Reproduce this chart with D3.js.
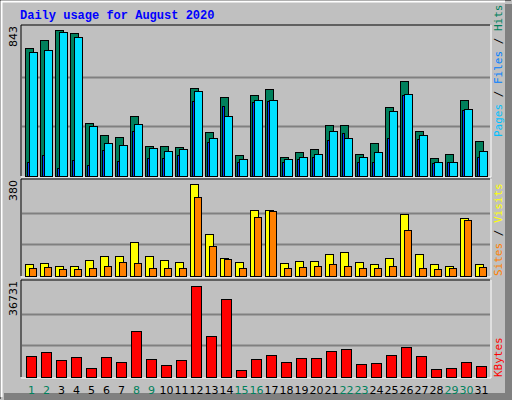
<!DOCTYPE html>
<html><head><meta charset="utf-8">
<script src="https://cdn.jsdelivr.net/npm/d3@7"></script>
<style>body{margin:0;background:#fff}</style>
</head><body><div id="chart"></div>
<script>
var days = d3.range(1, 32);
var weekend = [1, 2, 8, 9, 15, 16, 22, 23, 29, 30];
var hits = [725,768,824,810,301,234,219,341,172,172,166,497,251,447,116,459,492,110,133,150,289,289,122,184,391,537,256,104,122,430,200];
var files = [702,713,814,785,285,184,178,296,161,139,155,481,217,341,94,430,430,94,110,122,256,217,110,133,367,463,234,82,82,378,139];
var pages = [79,118,45,90,62,146,84,253,101,101,118,427,195,396,79,419,427,79,99,110,206,245,82,82,217,459,211,71,77,373,110];
var sites = [49,53,41,41,65,81,81,137,81,65,57,367,168,73,57,264,264,53,61,61,89,97,57,49,73,248,89,49,41,232,49];
var visits = [33,37,29,29,33,41,57,53,33,33,33,316,121,69,33,236,260,33,37,41,49,41,33,33,41,184,33,29,33,224,37];
var kbytes = [8220,9760,6680,7830,3600,7830,5910,17850,7060,4750,6680,35180,15920,30170,2820,7060,8600,5910,7450,7450,10140,10910,5140,5520,8600,11680,8220,3210,3600,5910,4370];
var maxHits = 843, maxSites = 380, maxKb = 36731;

var W = 512, H = 400;
var svg = d3.select("#chart").append("svg").attr("width", W).attr("height", H)
  .style("font-family", "DejaVu Sans Mono, monospace");

// raised frame
svg.append("rect").attr("width", W).attr("height", H).attr("fill", "#c0c0c0");
svg.append("path").attr("d", "M0,399V0H511").attr("stroke", "#000").attr("fill", "none");
svg.append("path").attr("d", "M1.5,397V1.5H505").attr("stroke", "#fff").attr("stroke-width", 2).attr("fill", "none");
svg.append("rect").attr("x", 505).attr("y", 4).attr("width", 7).attr("height", 396).attr("fill", "#808080");
svg.append("rect").attr("x", 4).attr("y", 393).attr("width", 508).attr("height", 7).attr("fill", "#808080");

svg.append("text").attr("x", 20).attr("y", 19).attr("fill", "#0000ff")
  .style("font-weight", "bold").style("font-size", "12px").style("font-family", "Liberation Mono, monospace")
  .text("Daily usage for August 2020");

var x = d3.scaleBand().domain(days).range([20, 485]).paddingInner(0);

function panel(top, bottom, max, label) {
  var y = d3.scaleLinear().domain([0, max]).range([bottom, top + 2]);
  svg.append("path").attr("d", "M21," + bottom + "V" + top + "H490").attr("stroke", "#000").attr("fill", "none");
  svg.append("path").attr("d", "M21," + (bottom + 1) + "H491V" + top).attr("stroke", "#fff").attr("fill", "none");
  [1, 2].forEach(function(k) {
    var gy = Math.round(bottom - (bottom - top - 2) * k / 3) + 0.5;
    svg.append("line").attr("x1", 22).attr("x2", 490).attr("y1", gy).attr("y2", gy)
      .attr("stroke", "#808080").attr("stroke-width", 2);
  });
  svg.append("text").attr("transform", "translate(17," + (top + 1) + ") rotate(-90)")
    .attr("text-anchor", "end").style("font-size", "11px").style("font-family", "DejaVu Sans, sans-serif")
    .text(label);
  return y;
}

function bars(y, data, dx, w, color) {
  svg.append("g").selectAll("rect").data(data).enter().append("rect")
    .attr("x", function(d, i) { return x(days[i]) + dx + 0.5; })
    .attr("y", function(d) { return Math.round(y(d)) + 0.5; })
    .attr("width", w)
    .attr("height", function(d) { return y.range()[0] - Math.round(y(d)); })
    .attr("fill", color).attr("stroke", "#000");
}

var y1 = panel(25, 176, maxHits, "843");
bars(y1, hits, 5, 8, "#00805c");
bars(y1, files, 9, 8, "#00e0ff");
bars(y1, pages, 7, 2, "#0040ff");

var y2 = panel(179, 276, maxSites, "380");
bars(y2, sites, 5, 8, "#ffff00");
bars(y2, visits, 9, 7, "#ff8000");

var y3 = panel(280, 377, maxKb, "36731");
bars(y3, kbytes, 6, 10, "#ff0000");

svg.append("g").selectAll("text").data(days).enter().append("text")
  .attr("x", function(d) { return x(d) + 11.5; }).attr("y", 394)
  .attr("text-anchor", "middle").style("font-size", "11px").style("font-family", "DejaVu Sans, sans-serif")
  .attr("fill", function(d) { return weekend.indexOf(d) >= 0 ? "#00805c" : "#000"; })
  .text(function(d) { return d; });

function sideLabel(yBottom, parts) {
  var t = svg.append("text").attr("transform", "translate(502," + yBottom + ") rotate(-90)")
    .style("font-size", "11px").style("font-family", "DejaVu Sans Mono, monospace");
  parts.forEach(function(p) { t.append("tspan").attr("fill", p[1]).text(p[0]); });
}
sideLabel(137, [["Pages", "#00c0ff"], [" / ", "#000"], ["Files", "#0080ff"], [" / ", "#000"], ["Hits", "#00805c"]]);
sideLabel(276, [["Sites", "#ff8000"], [" / ", "#000"], ["Visits", "#ffff00"]]);
sideLabel(377, [["KBytes", "#ff0000"]]);
</script></body></html>
